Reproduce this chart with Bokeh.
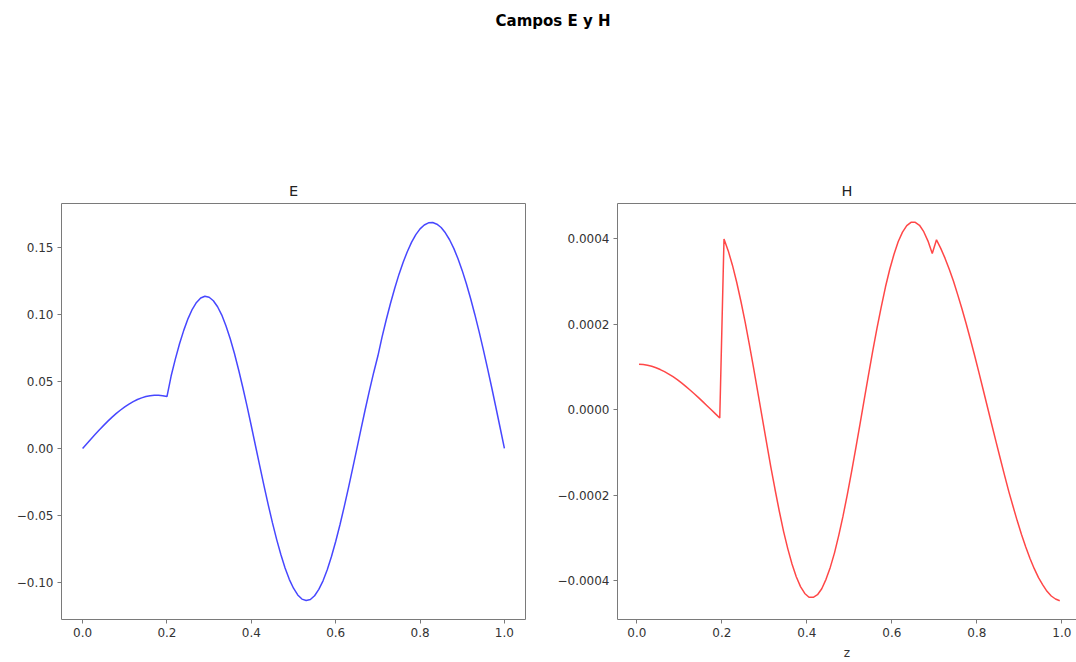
from bokeh.plotting import figure
from bokeh.models import FixedTicker, LinearAxis, Range1d, Div
from bokeh.layouts import column, row
from bokeh.embed import file_html
from bokeh.resources import INLINE

# ---------------- data ----------------
z_E = [round(0.01 * i, 2) for i in range(101)]
E_vals = [
    0.0, 0.00355, 0.00707, 0.01053, 0.01392, 0.01718, 0.02031, 0.02328, 0.02606, 0.02863,
    0.03096, 0.03305, 0.03487, 0.03641, 0.03766, 0.03861, 0.03925, 0.03956, 0.03956, 0.03924,
    0.03861,
    0.0541, 0.0667, 0.0781, 0.0881, 0.0967, 0.1036, 0.1087, 0.1120, 0.1133, 0.1126,
    0.1100, 0.1055, 0.0993, 0.0912, 0.0817, 0.0707, 0.0584, 0.0452, 0.0313, 0.0167,
    0.0018, -0.0130, -0.0277, -0.0418, -0.0553, -0.0677, -0.0790, -0.0890, -0.0975, -0.1041,
    -0.1091, -0.1122, -0.1133, -0.1125, -0.1097, -0.1050, -0.0986, -0.0904, -0.0805, -0.0693,
    -0.0570, -0.0437, -0.0297, -0.0152, -0.0005, 0.0144, 0.0290, 0.0431, 0.0564, 0.0688,
    0.0831, 0.0960, 0.1081, 0.1193, 0.1296, 0.1387, 0.1467, 0.1536, 0.1592, 0.1635,
    0.1664, 0.1680, 0.1682, 0.1670, 0.1645, 0.1606, 0.1554, 0.1490, 0.1412, 0.1324,
    0.1225, 0.1115, 0.0996, 0.0870, 0.0736, 0.0596, 0.0452, 0.0303, 0.0152, 0.0,
]

z_H = [round(0.005 + 0.01 * i, 3) for i in range(100)]
H_vals = [
    0.0001069, 0.0001060, 0.0001043, 0.0001018, 0.0000984, 0.0000942, 0.0000893, 0.0000837, 0.0000774, 0.0000704,
    0.0000629, 0.0000549, 0.0000464, 0.0000376, 0.0000285, 0.0000191, 0.0000096, 0.0, -0.0000096, -0.0000191,
    0.000400, 0.000372, 0.000338, 0.000298, 0.000253, 0.000204, 0.000151, 0.0000957, 0.0000387, -0.0000191,
    -0.0000765, -0.000133, -0.000186, -0.000237, -0.000284, -0.000325, -0.000361, -0.000391, -0.000414, -0.000430,
    -0.000439, -0.000439, -0.000433, -0.000419, -0.000397, -0.000369, -0.000335, -0.000294, -0.000249, -0.000199,
    -0.000146, -0.0000906, -0.0000334, 0.0000244, 0.0000817, 0.000138, 0.000191, 0.000241, 0.000288, 0.000329,
    0.000364, 0.000394, 0.000416, 0.000431, 0.000439, 0.000439, 0.000432, 0.000417, 0.000395, 0.000366,
    0.000398, 0.000378, 0.000355, 0.000329, 0.000301, 0.000269, 0.000236, 0.000201, 0.000164, 0.000126,
    0.0000864, 0.0000464, 0.0000060, -0.0000344, -0.0000745, -0.000114, -0.000153, -0.000191, -0.000226, -0.000260,
    -0.000292, -0.000321, -0.000348, -0.000372, -0.000393, -0.000410, -0.000425, -0.000436, -0.000443, -0.000447,
]

x_ticks = [0.0, 0.2, 0.4, 0.6, 0.8, 1.0]
x_tick_labels = ["0.0", "0.2", "0.4", "0.6", "0.8", "1.0"]
E_ticks = [-0.10, -0.05, 0.0, 0.05, 0.10, 0.15]
E_tick_labels = ["\u22120.10", "\u22120.05", "0.00", "0.05", "0.10", "0.15"]
H_ticks = [-0.0004, -0.0002, 0.0, 0.0002, 0.0004]
H_tick_labels = ["\u22120.0004", "\u22120.0002", "0.0000", "0.0002", "0.0004"]

suptitle = "Campos E y H"
title_E = "E"
title_H = "H"
xlabel_H = "z"

# ---------------- styling ----------------
FONT = "DejaVu Sans"
SPINE = "#7a7a7a"
LABEL = "#333333"


def style_axis(ax, ticks, labels, with_line):
    ax.ticker = FixedTicker(ticks=ticks)
    ax.major_label_overrides = dict(zip(ticks, labels))
    ax.axis_line_color = SPINE if with_line else None
    ax.major_tick_line_color = SPINE
    ax.major_tick_in = 0
    ax.major_tick_out = 4
    ax.minor_tick_line_color = None
    ax.major_label_text_font = FONT
    ax.major_label_text_font_size = "12px"
    ax.major_label_text_color = LABEL
    ax.major_label_standoff = 4


def style_title(p, text):
    p.title.text = text
    p.title.align = "center"
    p.title.text_font = FONT
    p.title.text_font_size = "14.5px"
    p.title.text_font_style = "normal"
    p.title.text_color = "#222222"
    p.title.standoff = 10


FIG_H = 512

# Left panel: E
p1 = figure(width=540, height=FIG_H, x_range=Range1d(-0.05, 1.05),
            y_range=Range1d(-0.1274, 0.1824), output_backend="svg",
            toolbar_location=None, min_border_left=61, min_border_right=15,
            min_border_top=53, min_border_bottom=42)
p1.line(z_E, E_vals, line_color="#0000ff", line_alpha=0.72, line_width=1.5)
p1.grid.visible = False
p1.outline_line_color = SPINE
p1.outline_line_width = 1
style_axis(p1.xaxis[0], x_ticks, x_tick_labels, False)
style_axis(p1.yaxis[0], E_ticks, E_tick_labels, False)
style_title(p1, title_E)
p1.background_fill_color = "white"
p1.border_fill_color = "white"

# Right panel: H (right side is cut off in the reference)
p2 = figure(width=536, height=FIG_H, x_range=Range1d(-0.0456, 1.0344),
            y_range=Range1d(-0.000491, 0.000483), output_backend="svg",
            toolbar_location=None, min_border_left=77, min_border_right=0,
            min_border_top=53, min_border_bottom=42)
p2.line(z_H, H_vals, line_color="#ff0000", line_alpha=0.72, line_width=1.5)
p2.grid.visible = False
p2.outline_line_color = None
style_axis(p2.xaxis[0], x_ticks, x_tick_labels, True)
style_axis(p2.yaxis[0], H_ticks, H_tick_labels, True)
p2.xaxis[0].axis_label = xlabel_H
p2.xaxis[0].axis_label_text_font = FONT
p2.xaxis[0].axis_label_text_font_size = "12px"
p2.xaxis[0].axis_label_text_font_style = "normal"
p2.xaxis[0].axis_label_text_color = LABEL
p2.xaxis[0].axis_label_standoff = 6
top_spine = LinearAxis(ticker=FixedTicker(ticks=[]), major_label_text_font_size="0px",
                       major_tick_in=0, major_tick_out=0, minor_tick_in=0, minor_tick_out=0,
                       major_label_standoff=0, axis_line_color=SPINE)
p2.add_layout(top_spine, "above")
style_title(p2, title_H)
p2.border_fill_color = "white"

head = Div(
    text=('<div style="display:block;width:1046px;margin-left:30px;text-align:center;'
          'padding-top:11px;font-family:\'DejaVu Sans\';font-weight:bold;'
          'font-size:15px;color:#000;">' + suptitle + '</div>'),
    width=1076, height=150, margin=0,
    styles={"width": "1076px", "text-align": "center"})

layout = column(head, row(p1, p2, spacing=0), spacing=0)

open("out.html", "w").write(file_html(layout, INLINE))
